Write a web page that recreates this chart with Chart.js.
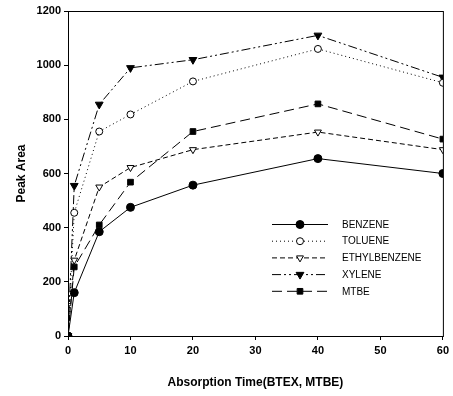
<!DOCTYPE html>
<html>
<head>
<meta charset="utf-8">
<script src="https://cdn.jsdelivr.net/npm/chart.js@4"></script>
<style>
  html, body { margin: 0; padding: 0; background: #fff; }
  #wrap { width: 453px; height: 396px; }
</style>
</head>
<body>
<div id="wrap"><canvas id="chart" width="453" height="396"></canvas></div>
<script>
// Absorption time (x) and peak areas
const times = [0, 1, 5, 10, 20, 40, 60];
const benzene = [0, 160, 385, 475, 557, 655, 600];
const toluene = [0, 455, 755, 818, 940, 1060, 935];
const ethylbenzene = [0, 280, 550, 622, 688, 753, 688];
const xylene = [0, 555, 855, 990, 1020, 1110, 955];
const mtbe = [0, 255, 410, 568, 755, 857, 727];
const labels = ['BENZENE', 'TOLUENE', 'ETHYLBENZENE', 'XYLENE', 'MTBE'];

const xTicks = [0, 10, 20, 30, 40, 50, 60];
const yTicks = [0, 200, 400, 600, 800, 1000, 1200];

const toPts = vals => vals.map((v, i) => ({ x: times[i], y: v }));

const styles = [
  { dash: [], point: 'circle', fill: '#000', radius: 4, rot: 0 },
  { dash: [1, 3], point: 'circle', fill: '#fff', radius: 3.5, rot: 0 },
  { dash: [5, 3], point: 'triangle', fill: '#fff', radius: 4, rot: 180 },
  { dash: [9, 3, 2, 3, 2, 3], point: 'triangle', fill: '#000', radius: 4.5, rot: 180 },
  { dash: [10, 5], point: 'rect', fill: '#000', radius: 4, rot: 0 }
];

const series = [benzene, toluene, ethylbenzene, xylene, mtbe];

const datasets = series.map((vals, i) => ({
  label: labels[i],
  data: toPts(vals),
  borderColor: '#000',
  borderWidth: 1,
  borderDash: styles[i].dash,
  pointStyle: styles[i].point,
  pointRotation: styles[i].rot,
  pointRadius: styles[i].radius,
  pointBackgroundColor: styles[i].fill,
  pointBorderColor: '#000',
  pointBorderWidth: 1,
  tension: 0
}));

// frame + legend drawn on the canvas
const extras = {
  id: 'extras',
  afterDraw(chart) {
    const ctx = chart.ctx;
    const a = chart.chartArea;
    ctx.save();
    ctx.strokeStyle = '#000';
    ctx.lineWidth = 1;
    ctx.setLineDash([]);
    ctx.strokeRect(a.left + 0.5, a.top + 0.5, a.right - a.left, a.bottom - a.top);

    const x0 = 272, x1 = 328, tx = 342;
    let y = 224;
    chart.data.datasets.forEach((ds, i) => {
      ctx.setLineDash(ds.borderDash);
      ctx.beginPath();
      ctx.moveTo(x0, y + 0.5);
      ctx.lineTo(x1, y + 0.5);
      ctx.stroke();
      ctx.setLineDash([]);
      ctx.fillStyle = ds.pointBackgroundColor;
      Chart.helpers.drawPoint(ctx, {
        pointStyle: ds.pointStyle,
        rotation: ds.pointRotation,
        radius: ds.pointRadius,
        borderWidth: 1
      }, (x0 + x1) / 2, y + 0.5);
      ctx.fillStyle = '#000';
      ctx.font = '10px "Liberation Sans Narrow", "Liberation Sans", Arial';
      ctx.textBaseline = 'middle';
      ctx.fillText(ds.label, tx, y + 1);
      y += 16.7;
    });
    ctx.restore();
  }
};

new Chart(document.getElementById('chart'), {
  type: 'line',
  data: { datasets },
  options: {
    responsive: false,
    animation: false,
    layout: { padding: { left: 0, right: 8, top: 11, bottom: 0 } },
    plugins: { legend: { display: false }, tooltip: { enabled: false } },
    scales: {
      x: {
        type: 'linear',
        min: 0, max: 60,
        afterBuildTicks: s => { s.ticks = xTicks.map(v => ({ value: v })); },
        afterFit: s => { s.height = 60; },
        grid: { drawOnChartArea: false, drawTicks: true, tickLength: 4, color: '#000' },
        border: { display: true, color: '#000', width: 1 },
        ticks: { color: '#000', font: { family: 'Arial', size: 11, weight: 'bold' }, padding: 4,
                 callback: v => String(v) },
        title: { display: true, text: 'Absorption Time(BTEX, MTBE)', color: '#000',
                 font: { family: 'Arial', size: 12, weight: 'bold' }, padding: { top: 14, bottom: 6 } }
      },
      y: {
        min: 0, max: 1200,
        afterBuildTicks: s => { s.ticks = yTicks.map(v => ({ value: v })); },
        afterFit: s => { s.width = 68; },
        grid: { drawOnChartArea: false, drawTicks: true, tickLength: 4, color: '#000' },
        border: { display: true, color: '#000', width: 1 },
        ticks: { color: '#000', font: { family: 'Arial', size: 11, weight: 'bold' }, padding: 3,
                 callback: v => String(v) },
        title: { display: true, text: 'Peak Area', color: '#000',
                 font: { family: 'Arial', size: 12, weight: 'bold' }, padding: { top: 14, bottom: 2 } }
      }
    }
  },
  plugins: [extras]
});
</script>
</body>
</html>
